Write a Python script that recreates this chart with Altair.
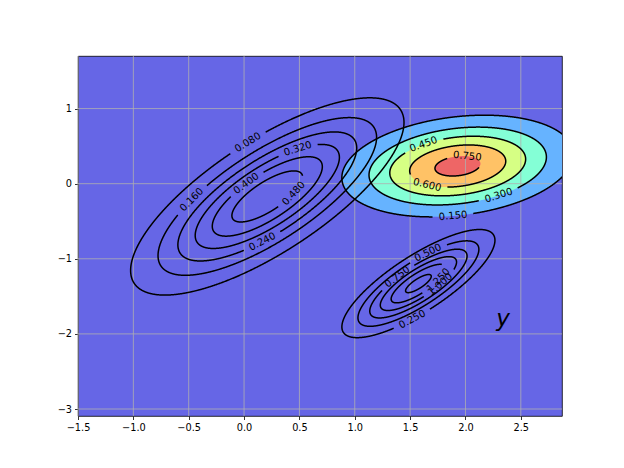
import numpy as np
import pandas as pd
import altair as alt

# ---- axes ----
X_MIN, X_MAX = -1.5, 2.872
Y_MIN, Y_MAX = -3.093, 1.70
W, H = 484, 360
x_ticks = [-1.5, -1.0, -0.5, 0.0, 0.5, 1.0, 1.5, 2.0, 2.5]
y_ticks = [-3, -2, -1, 0, 1]

# ---- three gaussian bumps ----
blob_mu_x = [0.21, 1.93, 1.575]
blob_mu_y = [-0.17, 0.235, -1.33]
blob_sd_x = [0.63, 0.572, 0.36]
blob_sd_y = [0.67, 0.37, 0.375]
blob_rho = [0.75, 0.23, 0.80]
blob_peak = [0.546, 0.80, 1.58]

levels_left = [0.08, 0.16, 0.24, 0.32, 0.40, 0.48]
levels_upper = [0.15, 0.30, 0.45, 0.60, 0.75]
levels_lower = [0.25, 0.50, 0.75, 1.00, 1.25, 1.50]
blob_levels = [levels_left, levels_upper, levels_lower]

fill_levels = [0.15, 0.30, 0.45, 0.60, 0.75]
fill_colors = ["#66b3ff", "#84ffd6", "#d6ff84", "#ffc266", "#ee6666"]
bg_color = "#6666e6"

# contour labels: blob, level, approximate position
label_blob = [0, 0, 0, 0, 0, 0, 1, 1, 1, 1, 1, 2, 2, 2, 2, 2]
label_level = [0.08, 0.16, 0.24, 0.32, 0.40, 0.48,
               0.45, 0.75, 0.60, 0.30, 0.15,
               0.50, 0.75, 1.25, 1.00, 0.25]
label_x = [0.019, -0.496, 0.176, 0.486, 0.019, 0.432,
           1.622, 2.018, 1.653, 2.291, 1.888,
           1.653, 1.35, 1.755, 1.80, 1.547]
label_y = [0.583, -0.181, -0.804, 0.459, 0.005, -0.107,
           0.521, 0.384, -0.027, -0.119, -0.415,
           -0.893, -1.173, -1.284, -1.39, -1.885]

note_text = "y"
note_x = [2.34]
note_y = [-1.90]

SX = W / (X_MAX - X_MIN)
SY = H / (Y_MAX - Y_MIN)
LABEL_SIZE = 10


def ellipse(b, level, s):
    r = np.sqrt(2 * np.log(blob_peak[b] / level))
    rho = blob_rho[b]
    x = blob_mu_x[b] + blob_sd_x[b] * r * np.cos(s)
    y = blob_mu_y[b] + blob_sd_y[b] * r * (rho * np.cos(s) + np.sqrt(1 - rho ** 2) * np.sin(s))
    return x, y


def to_px(x, y):
    return (x - X_MIN) * SX, (Y_MAX - y) * SY


def text_width(t):
    return sum(0.318 if c == "." else 0.636 for c in t) * LABEL_SIZE


# ---- filled areas for upper blob ----
s_half = np.linspace(0, np.pi, 400)
area_layers = []
for lev, col in zip(fill_levels, fill_colors):
    b = 1
    r = np.sqrt(2 * np.log(blob_peak[b] / lev))
    rho = blob_rho[b]
    x = blob_mu_x[b] + blob_sd_x[b] * r * np.cos(s_half)
    yc = blob_mu_y[b] + blob_sd_y[b] * r * rho * np.cos(s_half)
    dy = blob_sd_y[b] * r * np.sqrt(1 - rho ** 2) * np.sin(s_half)
    df = pd.DataFrame({"x": x, "y": yc + dy, "y2": yc - dy})
    area_layers.append(df)

# ---- contour lines with gaps for labels ----
line_rows = []
label_rows = []
seg = 0
s_grid = np.linspace(0, 2 * np.pi, 3600, endpoint=False)
for b in range(3):
    for lev in blob_levels[b]:
        idx = [k for k in range(len(label_level))
               if label_blob[k] == b and abs(label_level[k] - lev) < 1e-9]
        if idx:
            k = idx[0]
            gx, gy = ellipse(b, lev, s_grid)
            px, py = to_px(gx, gy)
            tx, ty = to_px(label_x[k], label_y[k])
            s0 = s_grid[np.argmin((px - tx) ** 2 + (py - ty) ** 2)]
        else:
            k = None
            s0 = 0.0
        s = s0 + np.linspace(0, 2 * np.pi, 1441)
        x, y = ellipse(b, lev, s)
        px, py = to_px(x, y)
        arc = np.concatenate([[0], np.cumsum(np.hypot(np.diff(px), np.diff(py)))])
        total = arc[-1]
        if k is not None:
            text = f"{lev:.3f}"
            g = text_width(text) / 2 + 6
            keep = (arc >= g) & (arc <= total - g)
            ang = np.degrees(np.arctan2(py[1] - py[-2], px[1] - px[-2]))
            if ang > 90:
                ang -= 180
            if ang < -90:
                ang += 180
            label_rows.append({"x": x[0], "y": y[0], "text": text, "angle": ang % 360})
        else:
            keep = np.ones_like(arc, dtype=bool)
        for i in np.where(keep)[0]:
            line_rows.append({"x": x[i], "y": y[i], "seg": seg, "i": int(i)})
        seg += 1

lines_df = pd.DataFrame(line_rows)
labels_df = pd.DataFrame(label_rows)

# ---- encodings ----
xscale = alt.Scale(domain=[X_MIN, X_MAX], nice=False, zero=False)
yscale = alt.Scale(domain=[Y_MIN, Y_MAX], nice=False, zero=False)
xaxis = alt.Axis(values=x_ticks, format=".1f", title="", grid=False, labelFlush=False)
yaxis = alt.Axis(values=y_ticks, format="d", title="", grid=False, labelFlush=False)


def X(field="x"):
    return alt.X(f"{field}:Q", scale=xscale, axis=xaxis)


def Y(field="y"):
    return alt.Y(f"{field}:Q", scale=yscale, axis=yaxis, stack=False)


layers = []
for df, col in zip(area_layers, fill_colors):
    layers.append(
        alt.Chart(df).mark_area(color=col, clip=True, opacity=1)
        .encode(x=X(), y=Y(), y2=alt.Y2("y2:Q"))
    )

gx_df = pd.DataFrame({"x": x_ticks})
gy_df = pd.DataFrame({"y": y_ticks})
layers.append(alt.Chart(gx_df).mark_rule(color="#b0b0b0", strokeWidth=0.8).encode(x=X()))
layers.append(alt.Chart(gy_df).mark_rule(color="#b0b0b0", strokeWidth=0.8).encode(y=Y()))

layers.append(
    alt.Chart(lines_df).mark_line(color="black", strokeWidth=1.5, clip=True)
    .encode(x=X(), y=Y(), detail="seg:N", order="i:Q")
)
layers.append(
    alt.Chart(labels_df).mark_text(font="DejaVu Sans", fontSize=LABEL_SIZE, color="black",
                                   align="center", baseline="middle")
    .encode(x=X(), y=Y(), text="text:N", angle=alt.Angle("angle:Q", scale=None))
)
note_df = pd.DataFrame({"x": note_x, "y": note_y, "t": [note_text]})
layers.append(
    alt.Chart(note_df).mark_text(font="DejaVu Sans", fontSize=23, fontStyle="italic",
                                 color="black", align="center", baseline="alphabetic")
    .encode(x=X(), y=Y(), text="t:N")
)

chart = alt.layer(*layers).properties(
    width=W, height=H,
    padding={"left": 70, "top": 48, "right": 8, "bottom": 40},
    autosize=alt.AutoSizeParams(type="none"),
).configure_view(
    stroke="black", strokeWidth=0.8, fill=bg_color
).configure_axis(
    domain=False, tickColor="black", tickWidth=0.8, tickSize=3.5,
    labelFont="DejaVu Sans", labelFontSize=9.75, labelColor="black", labelPadding=3,
)

chart.save("out.html", embed_options={"renderer": "svg", "actions": False})
